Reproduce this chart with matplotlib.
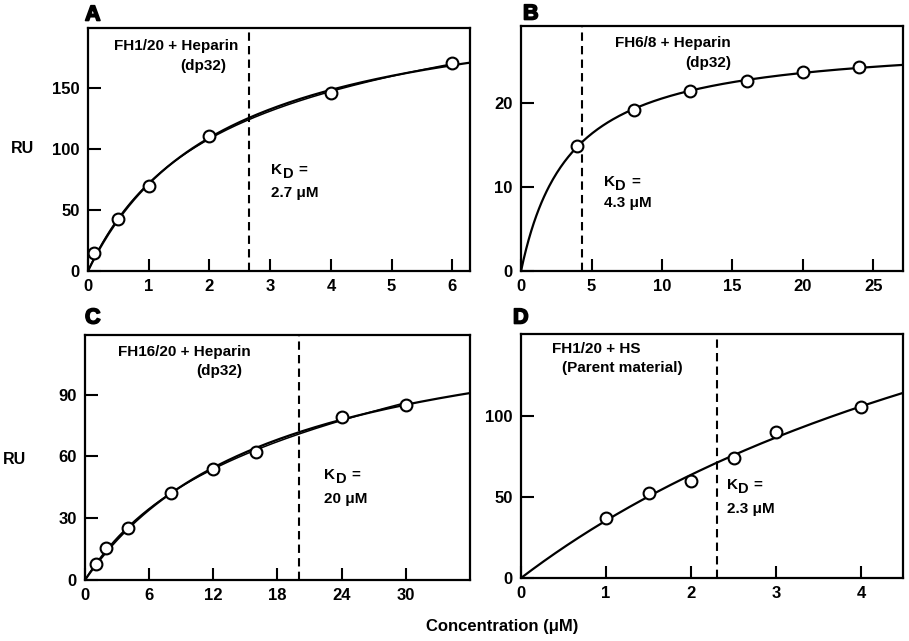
import numpy as np
import matplotlib
matplotlib.use("Agg")
import matplotlib.pyplot as plt
import matplotlib.patheffects as pe

plt.rcParams['font.family'] = ['Liberation Sans', 'DejaVu Sans']
plt.rcParams['font.weight'] = 'bold'

# Data
conc_a = [0.1, 0.5, 1, 2, 4, 6]
ru_a = [15, 42.6, 69.7, 110.6, 146, 170]
conc_b = [4, 8, 12, 16, 20, 24]
ru_b = [14.9, 19.25, 21.5, 22.6, 23.7, 24.3]
conc_c = [1, 2, 4, 8, 12, 16, 24, 30]
ru_c = [7.6, 15.4, 25.4, 42.1, 54, 62, 79.4, 85.2]
conc_d = [1, 1.5, 2, 2.5, 3, 4]
ru_d = [36.8, 52.3, 59.9, 73.9, 90.3, 105.4]

kd_lines = [2.65, 4.35, 20, 2.3]
kd_labels = ["2.7 μM", "4.3 μM", "20 μM", "2.3 μM"]
titles = ["FH1/20 + Heparin", "FH6/8 + Heparin", "FH16/20 + Heparin", "FH1/20 + HS"]
subtitles = ["(dp32)", "(dp32)", "(dp32)", "(Parent material)"]
letters = ["A", "B", "C", "D"]


def fit_binding(x, y, linear=False):
    # one-site binding y = Bmax*x/(K+x) (+ c*x), grid search on K
    x = np.asarray(x, float)
    y = np.asarray(y, float)
    best = None
    for k in np.logspace(-1, 2, 2000):
        f = x / (k + x)
        cols = [f, x] if linear else [f]
        m = np.column_stack(cols)
        coef, *_ = np.linalg.lstsq(m, y, rcond=None)
        if linear and (coef[1] < 0 or coef[0] < 0):
            continue
        err = np.sum((m @ coef - y) ** 2)
        if best is None or err < best[0]:
            best = (err, k, coef)
    k, coef = best[1], best[2]
    return lambda t: coef[0] * t / (k + t) + (coef[1] * t if linear else 0)


fig = plt.figure(figsize=(9.09, 6.41), dpi=100)

panels = [
    dict(x=conc_a, y=ru_a, rect=[0.0968, 0.5772, 0.4202, 0.379], xlim=6.29, ylim=199,
         xt=[0, 1, 2, 3, 4, 5, 6], yt=[0, 50, 100, 150], double=True,
         t1=(0.231, 0.927), t2=(0.303, 0.844), kd=(0.48, 0.416, 0.32)),
    dict(x=conc_b, y=ru_b, rect=[0.5732, 0.5772, 0.4202, 0.3822], xlim=27.1, ylim=29.2,
         xt=[0, 5, 10, 15, 20, 25], yt=[0, 10, 20], double=False,
         t1=(0.397, 0.929), t2=(0.49, 0.848), kd=(0.217, 0.364, 0.276)),
    dict(x=conc_c, y=ru_c, rect=[0.0935, 0.0952, 0.4235, 0.3822], xlim=36.0, ylim=119,
         xt=[0, 6, 12, 18, 24, 30], yt=[0, 30, 60, 90], double=True,
         t1=(0.257, 0.932), t2=(0.349, 0.853), kd=(0.622, 0.429, 0.331)),
    dict(x=conc_d, y=ru_d, rect=[0.5732, 0.0983, 0.4202, 0.3807], xlim=4.49, ylim=150.6,
         xt=[0, 1, 2, 3, 4], yt=[0, 50, 100], double=False,
         t1=(0.196, 0.939), t2=(0.264, 0.862), kd=(0.538, 0.381, 0.282)),
]

for i, p in enumerate(panels):
    ax = fig.add_axes(p['rect'])
    xs = np.linspace(0, p['xlim'], 300)
    curve = fit_binding(p['x'], p['y'])
    ax.plot(xs, curve(xs), color='black', lw=1.6, zorder=2)
    if p['double']:
        # second, slightly different fit over the data range (doubled line)
        curve2 = fit_binding(p['x'], p['y'], linear=True)
        xs2 = np.linspace(0, max(p['x']), 200)
        ax.plot(xs2, curve2(xs2), color='black', lw=1.1, zorder=2)
    ax.plot(p['x'], p['y'], 'o', ms=8.5, mfc='white', mec='black', mew=1.5, zorder=3,
            clip_on=False)
    ax.axvline(kd_lines[i], color='black', ls=(0, (4, 2.5)), lw=1.5, zorder=1)

    ax.set_xlim(0, p['xlim'])
    ax.set_ylim(0, p['ylim'])
    ax.set_xticks(p['xt'])
    ax.set_yticks(p['yt'])
    ax.tick_params(direction='in', length=9, width=1.5, labelsize=12)
    ax.tick_params(axis='x', pad=6)
    ax.tick_params(axis='y', pad=6)
    for s in ax.spines.values():
        s.set_linewidth(1.6)

    ax.text(p['t1'][0], p['t1'][1], titles[i], transform=ax.transAxes,
            ha='center', va='center', fontsize=11)
    ax.text(p['t2'][0], p['t2'][1], subtitles[i], transform=ax.transAxes,
            ha='center', va='center', fontsize=11)
    # K with a large subscript D, then "="
    kx, ky = p['kd'][0], p['kd'][1]
    ax.annotate("K", (kx, ky), xycoords='axes fraction', ha='left', va='center', fontsize=11)
    ax.annotate("D", (kx, ky), xycoords='axes fraction', xytext=(8.3, -3), textcoords='offset points',
                ha='left', va='center', fontsize=10.5)
    ax.annotate("=", (kx, ky), xycoords='axes fraction', xytext=(19.5, 0), textcoords='offset points',
                ha='left', va='center', fontsize=11)
    ax.text(kx, p['kd'][2], kd_labels[i], transform=ax.transAxes,
            ha='left', va='center', fontsize=11)

# panel letters (extra-heavy look via a thin stroke)
heavy = [pe.withStroke(linewidth=1.2, foreground='black')]
fig.text(85 / 909, 1 - 15 / 641, "A", fontsize=15.5, ha='left', va='center', path_effects=heavy)
fig.text(523 / 909, 1 - 14 / 641, "B", fontsize=15.5, ha='left', va='center', path_effects=heavy)
fig.text(85 / 909, 1 - 318 / 641, "C", fontsize=15.5, ha='left', va='center', path_effects=heavy)
fig.text(513 / 909, 1 - 318 / 641, "D", fontsize=15.5, ha='left', va='center', path_effects=heavy)

fig.text(23 / 909, 1 - 149 / 641, "RU", fontsize=11.5, ha='center', va='center')
fig.text(15 / 909, 1 - 460 / 641, "RU", fontsize=11.5, ha='center', va='center')
fig.text(502 / 909, 1 - 627 / 641, "Concentration (μM)", fontsize=12,
         ha='center', va='center')

fig.savefig("out.png", dpi=100)
